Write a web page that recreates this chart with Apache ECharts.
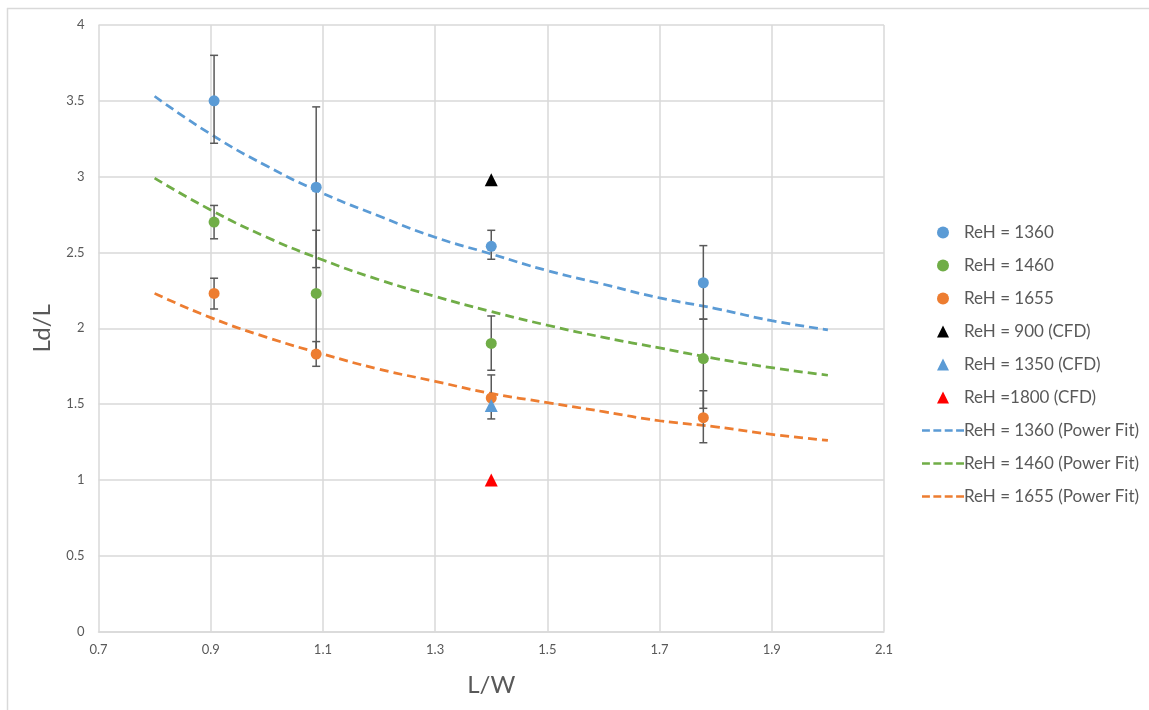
<!DOCTYPE html>
<html>
<head>
<meta charset="utf-8">
<script src="https://cdn.jsdelivr.net/npm/echarts@6/dist/echarts.min.js"></script>
<style>
  html, body { margin: 0; padding: 0; background: #ffffff; }
  #chart { width: 1149px; height: 710px; }
</style>
</head>
<body>
<div id="chart"></div>
<script>
// measured points (L/W, Ld/L)
const lw = [0.906, 1.088, 1.4, 1.778];
const re1360 = [3.5, 2.93, 2.54, 2.3];
const re1460 = [2.7, 2.23, 1.9, 1.8];
const re1655 = [2.23, 1.83, 1.54, 1.41];

// error bar ranges [low, high]
const err1360 = [[3.22, 3.8], [2.4, 3.46], [2.455, 2.646], [2.06, 2.545]];
const err1460 = [[2.59, 2.81], [1.82, 2.646], [1.723, 2.081], [1.472, 2.06]];
const err1655 = [[2.127, 2.33], [1.749, 1.912], [1.402, 1.692], [1.245, 1.588]];

// CFD results
const cfd900 = [[1.4, 2.98]];
const cfd1350 = [[1.4, 1.49]];
const cfd1800 = [[1.4, 1.0]];

// power fit curves
const fitX = [0.8, 0.9, 1.0, 1.1, 1.2, 1.3, 1.4, 1.5, 1.6, 1.7, 1.8, 1.9, 2.0];
const fit1360 = [3.53, 3.28, 3.07, 2.89, 2.74, 2.6, 2.49, 2.38, 2.29, 2.2, 2.13, 2.05, 1.99];
const fit1460 = [2.99, 2.78, 2.6, 2.45, 2.32, 2.21, 2.11, 2.02, 1.94, 1.87, 1.8, 1.74, 1.69];
const fit1655 = [2.23, 2.07, 1.94, 1.83, 1.73, 1.65, 1.57, 1.51, 1.45, 1.39, 1.35, 1.3, 1.26];

const BLUE = '#5b9bd5';
const GREEN = '#70ad47';
const ORANGE = '#ed7d31';
const TEXT = '#595959';
const GRID = '#d9d9d9';
const FONT = 'Lato, "Open Sans", sans-serif';
const DASH = [9, 5];

const pairs = (xs, ys) => xs.map((x, i) => [x, ys[i]]);
const errData = (xs, rs) => xs.map((x, i) => [x, rs[i][0], rs[i][1]]);

// 误差棒
const renderErr = (params, api) => {
  const top = api.coord([api.value(0), api.value(2)]);
  const bot = api.coord([api.value(0), api.value(1)]);
  const cap = 4;
  const style = { stroke: TEXT, lineWidth: 1.5 };
  return {
    type: 'group',
    children: [
      { type: 'line', shape: { x1: top[0], y1: top[1], x2: bot[0], y2: bot[1] }, style },
      { type: 'line', shape: { x1: top[0] - cap, y1: top[1], x2: top[0] + cap, y2: top[1] }, style },
      { type: 'line', shape: { x1: bot[0] - cap, y1: bot[1], x2: bot[0] + cap, y2: bot[1] }, style }
    ]
  };
};

const errSeries = (data) => ({
  type: 'custom',
  renderItem: renderErr,
  data: data,
  encode: { x: 0, y: [1, 2] },
  z: 3,
  silent: true
});

const scatter = (name, data, color, symbol, size) => ({
  name: name,
  type: 'scatter',
  symbol: symbol,
  symbolSize: size,
  data: data,
  itemStyle: { color: color, opacity: 1 },
  z: 5
});

const fitLine = (name, ys, color) => ({
  name: name,
  type: 'line',
  data: pairs(fitX, ys),
  smooth: true,
  showSymbol: false,
  symbol: 'none',
  lineStyle: { color: color, width: 2.75, type: DASH },
  itemStyle: { color: color },
  z: 2
});

// 图例图标，保持比例
const TRI = 'path://M0,12 L6,0 L12,12 Z';
const DASHED = 'path://M0,0h8v2.75h-8z M11.5,0h8v2.75h-8z M23,0h8v2.75h-8z M34.5,0h8v2.75h-8z';

const myChart = echarts.init(document.getElementById('chart'), null, { renderer: 'canvas' });

const option = {
  animation: false,
  backgroundColor: '#ffffff',
  textStyle: { fontFamily: FONT },
  graphic: [
    { type: 'line', shape: { x1: 7, y1: 8.5, x2: 1149, y2: 8.5 }, style: { stroke: GRID, lineWidth: 1.5 } },
    { type: 'line', shape: { x1: 7.5, y1: 8, x2: 7.5, y2: 710 }, style: { stroke: GRID, lineWidth: 1.5 } }
  ],
  grid: {
    left: 98.5,
    right: 265,
    top: 25,
    bottom: 78.5,
    containLabel: false
  },
  legend: {
    orient: 'vertical',
    left: 917,
    top: 219,
    itemWidth: 42,
    itemHeight: 12,
    itemGap: 16,
    symbolKeepAspect: true,
    data: [
      { name: 'ReH = 1360', icon: 'circle' },
      { name: 'ReH = 1460', icon: 'circle' },
      { name: 'ReH = 1655', icon: 'circle' },
      { name: 'ReH = 900 (CFD)', icon: TRI },
      { name: 'ReH = 1350 (CFD)', icon: TRI },
      { name: 'ReH =1800 (CFD)', icon: TRI },
      { name: 'ReH = 1360 (Power Fit)', icon: DASHED },
      { name: 'ReH = 1460 (Power Fit)', icon: DASHED },
      { name: 'ReH = 1655 (Power Fit)', icon: DASHED }
    ],
    textStyle: { color: TEXT, fontSize: 17, fontFamily: FONT, padding: [0, 0, 0, -5] }
  },
  xAxis: {
    type: 'value',
    min: 0.7,
    max: 2.1,
    interval: 0.2,
    name: 'L/W',
    nameLocation: 'middle',
    nameGap: 42,
    nameTextStyle: { color: TEXT, fontSize: 24, fontFamily: FONT },
    axisLine: { show: true, lineStyle: { color: GRID, width: 1.5 } },
    axisTick: { show: false },
    axisLabel: { color: TEXT, fontSize: 13, margin: 12, fontFamily: FONT },
    splitLine: { show: true, lineStyle: { color: GRID, width: 1.5 } }
  },
  yAxis: {
    type: 'value',
    min: 0,
    max: 4,
    interval: 0.5,
    name: 'Ld/L',
    nameLocation: 'middle',
    nameGap: 44,
    nameTextStyle: { color: TEXT, fontSize: 24, fontFamily: FONT },
    axisLine: { show: false },
    axisTick: { show: false },
    axisLabel: { color: TEXT, fontSize: 13, margin: 14, fontFamily: FONT },
    splitLine: { show: true, lineStyle: { color: GRID, width: 1.5 } }
  },
  series: [
    fitLine('ReH = 1360 (Power Fit)', fit1360, BLUE),
    fitLine('ReH = 1460 (Power Fit)', fit1460, GREEN),
    fitLine('ReH = 1655 (Power Fit)', fit1655, ORANGE),
    errSeries(errData(lw, err1360)),
    errSeries(errData(lw, err1460)),
    errSeries(errData(lw, err1655)),
    scatter('ReH = 1360', pairs(lw, re1360), BLUE, 'circle', 11),
    scatter('ReH = 1460', pairs(lw, re1460), GREEN, 'circle', 11),
    scatter('ReH = 1655', pairs(lw, re1655), ORANGE, 'circle', 11),
    scatter('ReH = 900 (CFD)', cfd900, '#000000', 'triangle', 13),
    scatter('ReH = 1350 (CFD)', cfd1350, BLUE, 'triangle', 13),
    scatter('ReH =1800 (CFD)', cfd1800, '#ff0000', 'triangle', 13)
  ]
};

myChart.setOption(option);
</script>
</body>
</html>
